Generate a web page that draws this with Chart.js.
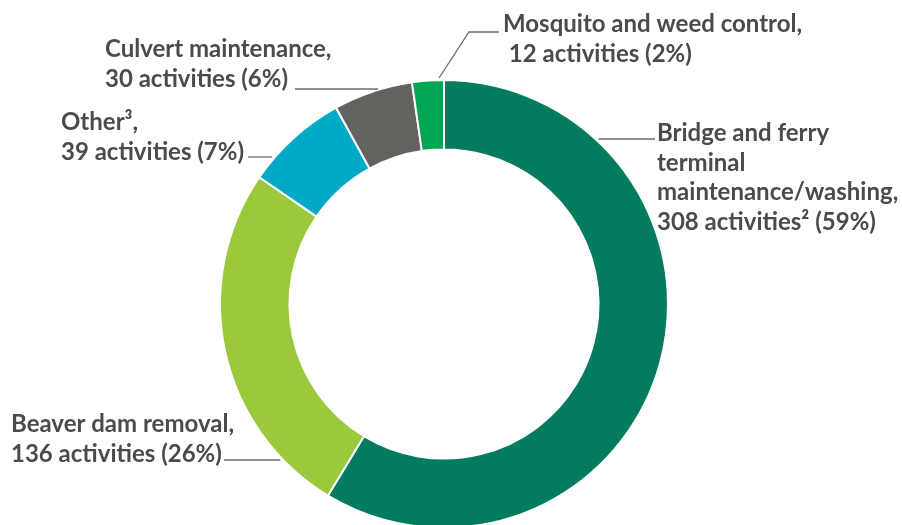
<!DOCTYPE html>
<html>
<head>
<meta charset="utf-8">
<script src="https://cdn.jsdelivr.net/npm/chart.js@4.4.1/dist/chart.umd.min.js"></script>
<style>
  html, body { margin: 0; padding: 0; background: #ffffff; }
  #wrap { width: 902px; height: 525px; overflow: hidden; position: relative; }
  canvas { display: block; }
</style>
</head>
<body>
<div id="wrap"><canvas id="c" width="902" height="608"></canvas></div>
<script>
// ---- data ----
const categories = [
  'Bridge and ferry terminal maintenance/washing',
  'Beaver dam removal',
  'Other',
  'Culvert maintenance',
  'Mosquito and weed control'
];
const activities = [308, 136, 39, 30, 12];
const footnoteMarks = ['²', '', '', '', ''];
const segmentColors = ['#037b5f', '#9aca3c', '#00aac7', '#64625e', '#00a651'];

// ---- label layout (text lines + placement) ----
const total = activities.reduce((a, b) => a + b, 0);
function countLine(i, lead) {
  const pct = Math.round(activities[i] / total * 100);
  return (lead || '') + activities[i] + ' activities' + footnoteMarks[i] + ' (' + pct + '%)';
}
const labelLayout = [
  { lines: ['Bridge and ferry', 'terminal', 'maintenance/washing,', countLine(0)],
    x: 657, y: 141, lineY: 139, lineX: 655, side: 'right' },
  { lines: ['Beaver dam removal,', countLine(1)],
    x: 11, y: 432, lineY: 460, lineX: 224, side: 'left' },
  { lines: ['Other³,', countLine(2)],
    x: 61, y: 130, lineY: 157, lineX: 248, side: 'left' },
  { lines: ['Culvert maintenance,', countLine(3)],
    x: 105, y: 57, lineY: 89, lineX: 295, side: 'left' },
  { lines: ['Mosquito and weed control,', countLine(4, ' ')],
    x: 503, y: 32, lineY: 32, lineX: 499, side: 'top', elbowX: 469 }
];

const labelPlugin = {
  id: 'leaderLabels',
  afterDraw(chart) {
    const ctx = chart.ctx;
    const arc = chart.getDatasetMeta(0).data[0];
    const cx = arc.x, cy = arc.y, R = arc.outerRadius;
    ctx.save();
    ctx.font = 'bold 24px Lato';
    ctx.fillStyle = '#4b4b4d';
    ctx.textBaseline = 'alphabetic';
    ctx.textAlign = 'left';
    labelLayout.forEach(l => {
      l.lines.forEach((t, k) => ctx.fillText(t, l.x, l.y + k * 29.5));
    });
    ctx.strokeStyle = '#6d6d6d';
    ctx.lineWidth = 1.3;
    labelLayout.forEach(l => {
      ctx.beginPath();
      if (l.side === 'top') {
        const px = cx - 5, py = cy - R - 2;
        ctx.moveTo(px, py);
        ctx.lineTo(l.elbowX, l.lineY);
        ctx.lineTo(l.lineX, l.lineY);
      } else {
        const dy = l.lineY - cy;
        const dx = Math.sqrt(Math.max(R * R - dy * dy, 0));
        const ex = l.side === 'right' ? cx + dx + 3 : cx - dx - 3;
        ctx.moveTo(l.lineX, l.lineY);
        ctx.lineTo(ex, l.lineY);
      }
      ctx.stroke();
    });
    ctx.restore();
  }
};

new Chart(document.getElementById('c'), {
  type: 'doughnut',
  data: {
    labels: categories,
    datasets: [{
      data: activities,
      backgroundColor: segmentColors,
      borderColor: '#ffffff',
      borderWidth: 2
    }]
  },
  options: {
    responsive: false,
    animation: false,
    cutout: '69%',
    layout: { padding: { left: 219, right: 233, top: 79, bottom: 79 } },
    plugins: { legend: { display: false }, tooltip: { enabled: false } }
  },
  plugins: [labelPlugin]
});
</script>
</body>
</html>
